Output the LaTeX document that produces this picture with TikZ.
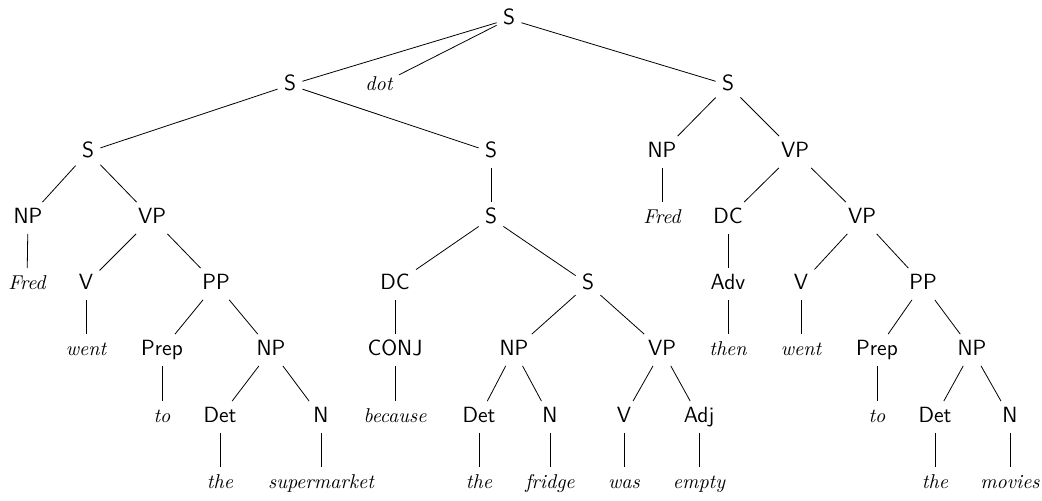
\documentclass[tikz,border=0pt]{standalone}
\usetikzlibrary{positioning}
\begin{document}
\begin{tikzpicture}[x=0.5pt,y=-0.5pt]
\tikzstyle{cat}=[font=\sffamily\fontsize{11}{13}\selectfont,text height=7.5pt,text depth=2pt,inner sep=3pt]
\tikzstyle{wd}=[cat,font=\itshape]
\useasboundingbox (0,0) rectangle (1042,500);
% top levels
\node[cat] (s) at (509,19) {S};
\node[cat] (sa) at (290,85) {S};
\node[wd] (dot) at (379,85) {dot};
\node[cat] (sb) at (728,85) {S};
\node[cat] (sc) at (88,152) {S};
\node[cat] (sd) at (491,152) {S};
\node[cat] (np1) at (662,152) {NP};
\node[cat] (vp1) at (795,152) {VP};
\node[cat] (np2) at (28,218) {NP};
\node[cat] (vp2) at (152,218) {VP};
\node[cat] (se) at (491,218) {S};
\node[wd] (fred1) at (662,218) {Fred};
\node[cat] (dc1) at (728,218) {DC};
\node[cat] (vp3) at (862,218) {VP};
% middle levels
\node[wd] (fred2) at (27,284) {Fred};
\node[cat] (v1) at (86,284) {V};
\node[cat] (pp1) at (216,284) {PP};
\node[cat] (dc2) at (395,284) {DC};
\node[cat] (sf) at (588,284) {S};
\node[cat] (adv) at (728,284) {Adv};
\node[cat] (v2) at (801,284) {V};
\node[cat] (pp2) at (923,284) {PP};
\node[wd] (went1) at (86,350) {went};
\node[cat] (prep1) at (162,350) {Prep};
\node[cat] (np3) at (271,350) {NP};
\node[cat] (conj) at (395,350) {CONJ};
\node[cat] (np4) at (514,350) {NP};
\node[cat] (vp4) at (662,350) {VP};
\node[wd] (then) at (728,350) {then};
\node[wd] (went2) at (801,350) {went};
\node[cat] (prep2) at (877,350) {Prep};
\node[cat] (np5) at (972,350) {NP};
% bottom levels
\node[wd] (to1) at (162,417) {to};
\node[cat] (det1) at (220,417) {Det};
\node[cat] (n1) at (321,417) {N};
\node[wd] (because) at (395,417) {because};
\node[cat] (det2) at (479,417) {Det};
\node[cat] (n2) at (550,417) {N};
\node[cat] (v3) at (624,417) {V};
\node[cat] (adj) at (699,417) {Adj};
\node[wd] (to2) at (877,417) {to};
\node[cat] (det3) at (935,417) {Det};
\node[cat] (n3) at (1010,417) {N};
\node[wd] (the1) at (220,483) {the};
\node[wd] (supermarket) at (321,483) {supermarket};
\node[wd] (the2) at (479,483) {the};
\node[wd] (fridge) at (550,483) {fridge};
\node[wd] (was) at (624,483) {was};
\node[wd] (empty) at (699,483) {empty};
\node[wd] (the3) at (935,483) {the};
\node[wd] (movies) at (1010,483) {movies};
% edges
\draw (s) -- (sa); \draw (s) -- (dot); \draw (s) -- (sb);
\draw (sa) -- (sc); \draw (sa) -- (sd);
\draw (sc) -- (np2); \draw (sc) -- (vp2);
\draw (np2) -- (fred2);
\draw (vp2) -- (v1); \draw (vp2) -- (pp1);
\draw (v1) -- (went1);
\draw (pp1) -- (prep1); \draw (pp1) -- (np3);
\draw (prep1) -- (to1);
\draw (np3) -- (det1); \draw (np3) -- (n1);
\draw (det1) -- (the1); \draw (n1) -- (supermarket);
\draw (sd) -- (se);
\draw (se) -- (dc2); \draw (se) -- (sf);
\draw (dc2) -- (conj); \draw (conj) -- (because);
\draw (sf) -- (np4); \draw (sf) -- (vp4);
\draw (np4) -- (det2); \draw (np4) -- (n2);
\draw (det2) -- (the2); \draw (n2) -- (fridge);
\draw (vp4) -- (v3); \draw (vp4) -- (adj);
\draw (v3) -- (was); \draw (adj) -- (empty);
\draw (sb) -- (np1); \draw (sb) -- (vp1);
\draw (np1) -- (fred1);
\draw (vp1) -- (dc1); \draw (vp1) -- (vp3);
\draw (dc1) -- (adv); \draw (adv) -- (then);
\draw (vp3) -- (v2); \draw (vp3) -- (pp2);
\draw (v2) -- (went2);
\draw (pp2) -- (prep2); \draw (pp2) -- (np5);
\draw (prep2) -- (to2);
\draw (np5) -- (det3); \draw (np5) -- (n3);
\draw (det3) -- (the3); \draw (n3) -- (movies);
\end{tikzpicture}
\end{document}
